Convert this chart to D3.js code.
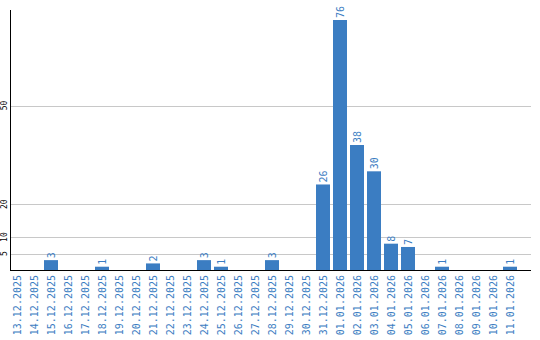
<!DOCTYPE html>
<html><head><meta charset="utf-8">
<script src="https://cdn.jsdelivr.net/npm/d3@7"></script>
<style>body{margin:0;background:#fff}svg{display:block}</style>
</head><body>
<svg id="c" width="540" height="340"></svg>
<script>
const categories = ["13.12.2025","14.12.2025","15.12.2025","16.12.2025","17.12.2025","18.12.2025","19.12.2025","20.12.2025","21.12.2025","22.12.2025","23.12.2025","24.12.2025","25.12.2025","26.12.2025","27.12.2025","28.12.2025","29.12.2025","30.12.2025","31.12.2025","01.01.2026","02.01.2026","03.01.2026","04.01.2026","05.01.2026","06.01.2026","07.01.2026","08.01.2026","09.01.2026","10.01.2026","11.01.2026"];
const values = [0,0,3,0,0,1,0,0,2,0,0,3,1,0,0,3,0,0,26,76,38,30,8,7,0,1,0,0,0,1];
const yTicks = [5,10,20,50];

const svg = d3.select("#c");
const blue = "#3b7dc2";
const x = d3.scaleBand().domain(categories).range([10,517]).paddingInner(3/17).paddingOuter(0);
const y = d3.scaleLinear().domain([0,76]).range([270,20]);

// grid
svg.append("g").selectAll("line").data(yTicks).join("line")
  .attr("x1",11).attr("x2",531)
  .attr("y1",d=>Math.round(y(d))+0.5).attr("y2",d=>Math.round(y(d))+0.5)
  .attr("stroke","#c8c8c8").attr("stroke-width",1);

// y tick labels
svg.append("g").selectAll("text").data(yTicks).join("text")
  .attr("transform",d=>`translate(7,${y(d)}) rotate(-90)`)
  .attr("text-anchor","middle")
  .attr("font-family","DejaVu Sans Mono, monospace").attr("font-size",8)
  .attr("fill","#000").text(d=>d);

// bars
svg.append("g").selectAll("rect").data(values.map((v,i)=>({c:categories[i],v}))).join("rect")
  .attr("x",d=>x(d.c)).attr("width",x.bandwidth())
  .attr("y",d=>y(d.v)).attr("height",d=>y(0)-y(d.v))
  .attr("fill",blue);

// value labels
svg.append("g").selectAll("text").data(values.map((v,i)=>({c:categories[i],v})).filter(d=>d.v>0)).join("text")
  .attr("transform",d=>`translate(${x(d.c)+x.bandwidth()/2+3.5},${y(d.v)-2}) rotate(-90)`)
  .attr("text-anchor","start")
  .attr("font-family","DejaVu Sans Mono, monospace").attr("font-size",10)
  .attr("fill",blue).text(d=>d.v);

// axes lines
svg.append("line").attr("x1",10.5).attr("x2",10.5).attr("y1",10).attr("y2",270.5).attr("stroke","#000");
svg.append("line").attr("x1",10).attr("x2",531).attr("y1",270.5).attr("y2",270.5).attr("stroke","#000");

// x labels
svg.append("g").selectAll("text").data(categories).join("text")
  .attr("transform",d=>`translate(${x(d)+x.bandwidth()/2+3.5},275) rotate(-90)`)
  .attr("text-anchor","end")
  .attr("font-family","DejaVu Sans Mono, monospace").attr("font-size",10)
  .attr("fill",blue).text(d=>d);
</script>
</body></html>
